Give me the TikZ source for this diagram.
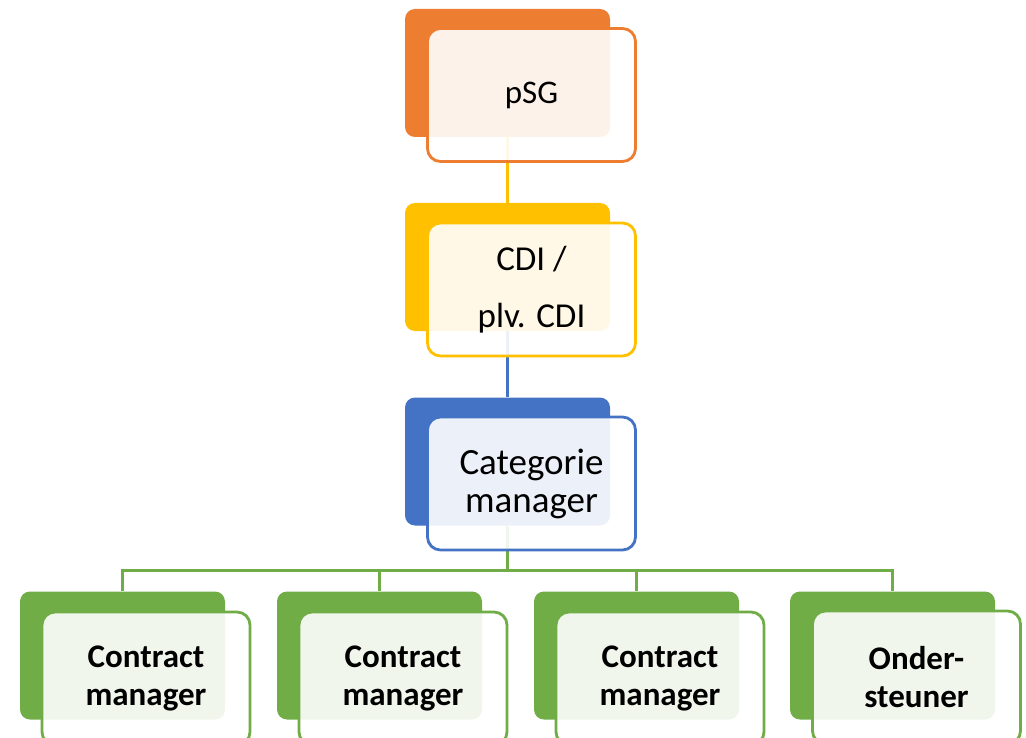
\documentclass[tikz,border=0pt]{standalone}
\usepackage{fontspec}
\setmainfont{Carlito}
\definecolor{cOrange}{HTML}{ED7D31}
\definecolor{cYellow}{HTML}{FFC000}
\definecolor{cBlue}{HTML}{4472C4}
\definecolor{cGreen}{HTML}{70AD47}
\tikzset{
  backbox/.style={fill=#1, rounded corners=10pt, minimum width=205pt, minimum height=128pt, inner sep=0pt},
  frontbox/.style={draw=#1, line width=2.8pt, fill=white, fill opacity=0.9, text opacity=1,
    rounded corners=13pt, minimum width=208pt, minimum height=133pt, inner sep=0pt, align=center, text=black},
  conn/.style={draw=#1, line width=3pt},
  lvlA/.style={font=\fontsize{33}{38}\selectfont},
  lvlB/.style={font=\fontsize{35}{57}\selectfont},
  lvlC/.style={font=\fontsize{37}{38}\selectfont},
  lvlD/.style={font=\fontsize{33}{38}\selectfont\bfseries},
}
\begin{document}
\begin{tikzpicture}[x=1pt,y=-1pt]
\clip (0,0) rectangle (1026,738);
\fill[white] (0,0) rectangle (1026,738);
% back boxes
\node[backbox=cOrange] (b1) at (507.5,73) {};
\node[backbox=cYellow] (b2) at (507.5,267) {};
\node[backbox=cBlue] (b3) at (507.5,461.5) {};
\node[backbox=cGreen] (g1) at (122.5,655.5) {};
\node[backbox=cGreen] (g2) at (379.5,655.5) {};
\node[backbox=cGreen] (g3) at (636.5,655.5) {};
\node[backbox=cGreen] (g4) at (892.5,655.5) {};
% connectors
\coordinate (bus) at (507.5,570);
\draw[conn=cYellow] (b1.south) -- (b2.north);
\draw[conn=cBlue] (b2.south) -- (b3.north);
\draw[conn=cGreen] (b3.south) -- (bus);
\draw[conn=cGreen] (bus) -| (g1.north);
\draw[conn=cGreen] (bus) -| (g2.north);
\draw[conn=cGreen] (bus) -| (g3.north);
\draw[conn=cGreen] (bus) -| (g4.north);
% front boxes
\node[frontbox=cOrange, lvlA] (f1) at (531.5,95) {pSG};
\node[frontbox=cYellow, lvlB] (f2) at (531.5,289.5) {CDI /\\plv. CDI};
\node[frontbox=cBlue, lvlC] (f3) at (531.5,483.5) {Categorie\\manager};
\node[frontbox=cGreen, lvlD] (h1) at (146,678.5) {Contract\\manager};
\node[frontbox=cGreen, lvlD] (h2) at (403,678.5) {Contract\\manager};
\node[frontbox=cGreen, lvlD] (h3) at (660,678.5) {Contract\\manager};
\node[frontbox=cGreen, lvlD] (h4) at (916.5,677.5) {Onder-\\steuner};
\end{tikzpicture}
\end{document}
